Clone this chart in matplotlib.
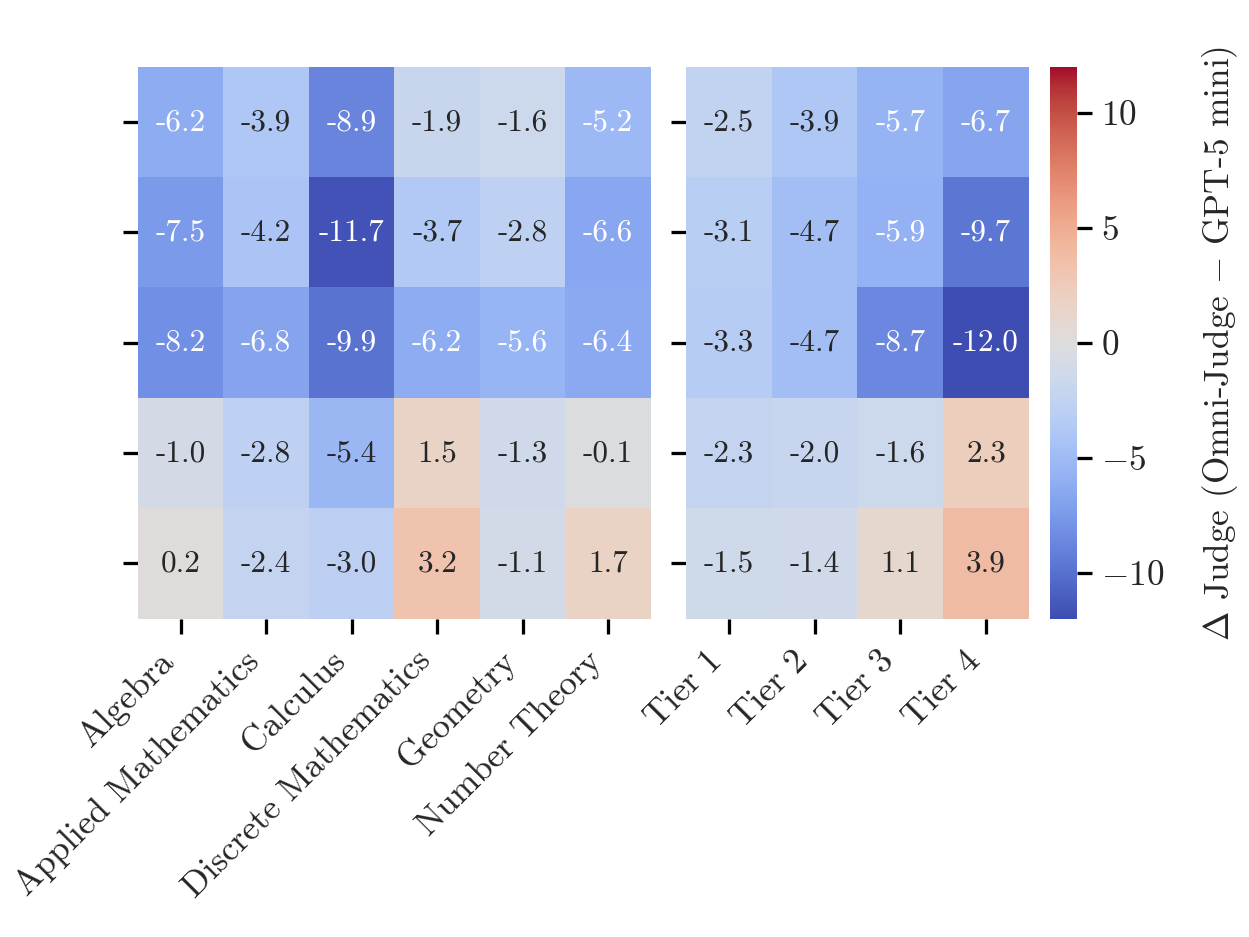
import matplotlib
matplotlib.use("Agg")
import matplotlib.pyplot as plt
from matplotlib.colors import ListedColormap
import seaborn as sns
import numpy as np

# categories
subjects = ["Algebra", "Applied Mathematics", "Calculus", "Discrete Mathematics",
            "Geometry", "Number Theory"]
tiers = ["Tier 1", "Tier 2", "Tier 3", "Tier 4"]

# delta values, one row per judge setting
subject_vals = [
    [-6.2, -3.9, -8.9, -1.9, -1.6, -5.2],
    [-7.5, -4.2, -11.7, -3.7, -2.8, -6.6],
    [-8.2, -6.8, -9.9, -6.2, -5.6, -6.4],
    [-1.0, -2.8, -5.4, 1.5, -1.3, -0.1],
    [0.2, -2.4, -3.0, 3.2, -1.1, 1.7],
]
tier_vals = [
    [-2.5, -3.9, -5.7, -6.7],
    [-3.1, -4.7, -5.9, -9.7],
    [-3.3, -4.7, -8.7, -12.0],
    [-2.3, -2.0, -1.6, 2.3],
    [-1.5, -1.4, 1.1, 3.9],
]

sns.set_style("ticks")
plt.rcParams["font.family"] = ["cmr10", "DejaVu Serif"]
plt.rcParams["mathtext.fontset"] = "cm"
plt.rcParams["axes.formatter.use_mathtext"] = True

# coolwarm, a bit washed out like the original render
base = plt.get_cmap("coolwarm")(np.linspace(0, 1, 256))[:, :3]
grey = (base @ np.array([0.3, 0.59, 0.11]))[:, None]
soft = base * 0.86 + grey * 0.14
cmap = ListedColormap(soft)

fig = plt.figure(figsize=(6.4, 4.8), dpi=195.3)
W, H = 1250, 936
ax1 = fig.add_axes([138 / W, 1 - 618 / H, 513 / W, 551 / H])
ax2 = fig.add_axes([686 / W, 1 - 618 / H, 343 / W, 551 / H])
cax = fig.add_axes([1050 / W, 1 - 618 / H, 27 / W, 551 / H])

kw = dict(cmap=cmap, vmin=-12, vmax=12, annot=True, fmt=".1f",
          annot_kws={"size": 11.5})
sns.heatmap(np.array(subject_vals), ax=ax1, cbar=False, **kw)
sns.heatmap(np.array(tier_vals), ax=ax2, cbar_ax=cax, **kw)

for ax, labels, vals in [(ax1, subjects, subject_vals), (ax2, tiers, tier_vals)]:
    flat = np.array(vals).ravel()
    for t, v in zip(ax.texts, flat):
        light = v < -5.1 and v != -5.4
        t.set_color("white" if light else "#262626")
    ax.set_xticklabels(labels, rotation=45, ha="right", fontsize=13)
    ax.set_yticks(np.arange(len(vals)) + 0.5)
    ax.set_yticklabels([""] * len(vals))
    ax.tick_params(axis="both", length=5.5, width=1.2, pad=4, color="black")

cax.tick_params(length=5.5, width=1.2, labelsize=13, color="black")
cax.set_ylabel(r"$\Delta$ Judge (Omni-Judge $-$ GPT-5 mini)", fontsize=13,
               labelpad=13)

plt.savefig("out.png", dpi=195.3)
